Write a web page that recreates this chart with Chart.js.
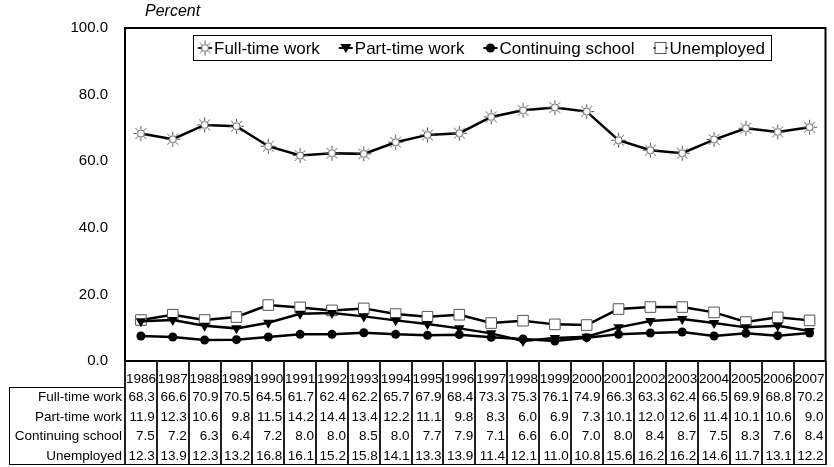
<!DOCTYPE html>
<html>
<head>
<meta charset="utf-8">
<script src="https://cdn.jsdelivr.net/npm/chart.js"></script>
<style>
html, body { margin: 0; padding: 0; background: #fff; overflow: hidden; }
canvas { display: block; }
</style>
</head>
<body>
<canvas id="chart" width="836" height="467"></canvas>
<script>
// data
const years = ['1986','1987','1988','1989','1990','1991','1992','1993','1994','1995','1996',
  '1997','1998','1999','2000','2001','2002','2003','2004','2005','2006','2007'];
const fullTime = [68.3,66.6,70.9,70.5,64.5,61.7,62.4,62.2,65.7,67.9,68.4,73.3,75.3,76.1,74.9,66.3,63.3,62.4,66.5,69.9,68.8,70.2];
const partTime = [11.9,12.3,10.6,9.8,11.5,14.2,14.4,13.4,12.2,11.1,9.8,8.3,6.0,6.9,7.3,10.1,12.0,12.6,11.4,10.1,10.6,9.0];
const school = [7.5,7.2,6.3,6.4,7.2,8.0,8.0,8.5,8.0,7.7,7.9,7.1,6.6,6.0,7.0,8.0,8.4,8.7,7.5,8.3,7.6,8.4];
const unemployed = [12.3,13.9,12.3,13.2,16.8,16.1,15.2,15.8,14.1,13.3,13.9,11.4,12.1,11.0,10.8,15.6,16.2,16.2,14.6,11.7,13.1,12.2];
const seriesNames = ['Full-time work','Part-time work','Continuing school','Unemployed'];
const yTicks = [0,20,40,60,80,100];

const FONT = '"Liberation Sans", Arial, sans-serif';

// sun-like marker for full-time work
function makeSun(){
  const c = document.createElement('canvas');
  c.width = 17; c.height = 17;
  const g = c.getContext('2d');
  g.strokeStyle = '#555';
  g.lineWidth = 1;
  for (let i = 0; i < 8; i++) {
    const a = i * Math.PI / 4;
    g.beginPath();
    g.moveTo(8.5 + Math.cos(a)*4.5, 8.5 + Math.sin(a)*4.5);
    g.lineTo(8.5 + Math.cos(a)*7.5, 8.5 + Math.sin(a)*7.5);
    g.stroke();
  }
  g.beginPath();
  g.arc(8.5, 8.5, 3.6, 0, Math.PI*2);
  g.fillStyle = '#fff';
  g.fill();
  g.stroke();
  return c;
}
const sun = makeSun();

function drawMarker(ctx, kind, x, y){
  ctx.save();
  if (kind == 0) {
    ctx.drawImage(sun, x - 8.5, y - 8.5);
  } else if (kind == 1) {
    ctx.fillStyle = '#000';
    ctx.beginPath();
    ctx.moveTo(x - 5.5, y - 4);
    ctx.lineTo(x + 5.5, y - 4);
    ctx.lineTo(x, y + 5);
    ctx.closePath();
    ctx.fill();
  } else if (kind == 2) {
    ctx.fillStyle = '#000';
    ctx.beginPath();
    ctx.arc(x, y, 4.5, 0, Math.PI*2);
    ctx.fill();
  } else {
    ctx.fillStyle = '#fff';
    ctx.strokeStyle = '#555';
    ctx.lineWidth = 1;
    ctx.fillRect(x - 5, y - 5, 10, 10);
    ctx.strokeRect(x - 5.5, y - 5.5, 11, 11);
  }
  ctx.restore();
}

// plot frame, "Percent", legend and data table
const extras = {
  id: 'extras',
  beforeDatasetsDraw(chart){
    const ctx = chart.ctx, a = chart.chartArea;
    ctx.save();
    ctx.strokeStyle = '#000';
    ctx.lineWidth = 2;
    ctx.strokeRect(a.left, a.top, a.right - a.left, a.bottom - a.top);
    ctx.restore();
  },
  afterDraw(chart){
    const ctx = chart.ctx, a = chart.chartArea, x = chart.scales.x;
    ctx.save();

    ctx.fillStyle = '#000';
    ctx.font = 'italic 16px ' + FONT;
    ctx.textBaseline = 'middle';
    ctx.textAlign = 'left';
    ctx.fillText('Percent', a.left + 20, 12);

    // legend
    ctx.font = '17px ' + FONT;
    const gap = 18;
    let widths = seriesNames.map(n => 17 + ctx.measureText(n).width);
    let total = widths.reduce((s, w) => s + w, 0) + gap * (seriesNames.length - 1) + 10;
    let lx = 482 - total / 2, ly = 48;
    ctx.strokeStyle = '#000';
    ctx.lineWidth = 1;
    ctx.strokeRect(Math.round(lx) + 0.5, 35.5, Math.round(total), 25);
    let cx = lx + 5;
    seriesNames.forEach((n, i) => {
      ctx.strokeStyle = '#000';
      ctx.lineWidth = 2;
      ctx.beginPath();
      ctx.moveTo(cx, ly); ctx.lineTo(cx + 14, ly);
      ctx.stroke();
      drawMarker(ctx, i, cx + 7, ly);
      ctx.fillStyle = '#000';
      ctx.fillText(n, cx + 16, ly + 1);
      cx += widths[i] + gap;
    });

    // data table
    const rows = [fullTime, partTime, school, unemployed];
    const colW = (a.right - a.left) / years.length;
    const top = a.bottom, headB = 387, rowH = 19.5, bottom = headB + rowH * 4;
    ctx.strokeStyle = '#222';
    ctx.lineWidth = 2;
    for (let i = 0; i <= years.length; i++) {
      const px = Math.round(a.left + i * colW);
      ctx.beginPath();
      ctx.moveTo(px, top); ctx.lineTo(px, bottom);
      ctx.stroke();
    }
    ctx.strokeStyle = '#000';
    ctx.lineWidth = 1;
    ctx.beginPath();
    ctx.moveTo(9.5, headB + 0.5); ctx.lineTo(a.left, headB + 0.5);
    ctx.moveTo(9.5, headB); ctx.lineTo(9.5, bottom);
    ctx.moveTo(9, bottom - 0.5); ctx.lineTo(a.right, bottom - 0.5);
    ctx.stroke();

    ctx.font = '13.5px ' + FONT;
    ctx.fillStyle = '#000';
    ctx.textAlign = 'center';
    years.forEach((y, i) => ctx.fillText(y, x.getPixelForValue(i), 379));
    rows.forEach((vals, r) => {
      const ty = headB + rowH * r + rowH / 2 + 1;
      ctx.textAlign = 'right';
      ctx.fillText(seriesNames[r], a.left - 3, ty);
      vals.forEach((v, i) => {
        ctx.fillText(v.toFixed(1), x.getPixelForValue(i) + colW / 2 - 2, ty);
      });
    });
    ctx.restore();
  }
};

new Chart(document.getElementById('chart'), {
  type: 'line',
  data: {
    labels: years,
    datasets: [
      { label: seriesNames[0], data: fullTime, borderColor: '#000', borderWidth: 2.5,
        pointStyle: sun, pointRadius: 8 },
      { label: seriesNames[1], data: partTime, borderColor: '#000', borderWidth: 2.5,
        pointStyle: 'triangle', rotation: 180, pointRadius: 6, backgroundColor: '#000', pointBorderWidth: 0 },
      { label: seriesNames[2], data: school, borderColor: '#000', borderWidth: 2.5,
        pointStyle: 'circle', pointRadius: 4.5, backgroundColor: '#000', pointBorderWidth: 0 },
      { label: seriesNames[3], data: unemployed, borderColor: '#000', borderWidth: 2.5,
        pointStyle: 'rect', pointRadius: 7.5, backgroundColor: '#fff', pointBorderColor: '#555', pointBorderWidth: 1 }
    ]
  },
  options: {
    responsive: false,
    devicePixelRatio: 1,
    animation: false,
    layout: { padding: { top: 28, bottom: 467 - 361, left: 0, right: 0 } },
    plugins: { legend: { display: false }, tooltip: { enabled: false } },
    elements: { line: { tension: 0 } },
    scales: {
      x: { display: false, offset: true },
      y: {
        min: 0, max: 100,
        afterFit(scale){ scale.width = 125; },
        afterBuildTicks(scale){ scale.ticks = yTicks.map(v => ({ value: v })); },
        grid: { display: false, drawTicks: false },
        border: { display: false },
        ticks: {
          padding: 17,
          color: '#000',
          font: { family: FONT, size: 15 },
          callback: v => v.toFixed(1)
        }
      }
    }
  },
  plugins: [extras]
});
</script>
</body>
</html>
